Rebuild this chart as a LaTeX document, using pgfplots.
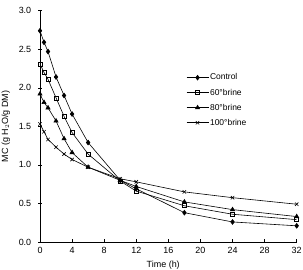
\documentclass[border=0pt]{standalone}
\usepackage{fontspec}
\setmainfont{Liberation Sans}
\usepackage{pgfplots}
\pgfplotsset{compat=1.18}

\begin{document}
\begin{tikzpicture}
\begin{axis}[
  at={(0,0)}, anchor=south west,
  scale only axis,
  width=256.7bp, height=231.3bp,
  xmin=0, xmax=32, ymin=0, ymax=3,
  axis x line*=bottom, axis y line*=left,
  axis line style={black, line width=0.7pt},
  xtick={0,4,...,32},
  ytick={0,0.5,...,3},
  xtick align=inside,
  ytick align=center,
  major tick length=3.5bp,
  tick style={black, line width=0.6pt},
  yticklabel style={xshift=-3.5bp, /pgf/number format/.cd, fixed, fixed zerofill, precision=1},
  /pgf/number format/assume math mode=true,
  ticklabel style={font=\fontsize{9}{10.5}\selectfont},
  xticklabel style={yshift=-2bp},
  xlabel={Time (h)},
  ylabel={MC (g H$_2$O/g DM)},
  label style={font=\fontsize{9}{10.5}\selectfont},
  ylabel style={at={(axis description cs:-0.133,0.5)}, anchor=center},
  xlabel style={at={(axis description cs:0.48,0)}, anchor=north, yshift=-18.5bp, inner sep=0.5bp},
  legend style={draw=none, fill=none, at={(0.569,0.733)}, anchor=north west,
    font=\fontsize{8.5}{10}\selectfont, row sep=5bp, inner sep=0pt,
    nodes={inner sep=1.2bp}},
  legend cell align=left,
  legend image code/.code={%
    \draw[mark repeat=2, mark phase=2] plot coordinates {(0bp,0bp) (11bp,0bp) (22bp,0bp)};},
  every axis plot/.append style={black, line width=0.6pt, mark options={solid}},
]
% Control
\addplot[mark=diamond*, mark size=2.4bp] coordinates {
  (0,2.74) (0.5,2.59) (1,2.47) (2,2.14) (3,1.90) (4,1.66) (6,1.29)
  (10,0.80) (12,0.69) (18,0.38) (24,0.26) (32,0.21)};
\addlegendentry{Control}
% 60 degree brine
\addplot[mark=square, mark size=2bp, mark options={fill=white}] coordinates {
  (0,2.31) (0.5,2.20) (1,2.11) (2,1.87) (3,1.63) (4,1.42) (6,1.14)
  (10,0.79) (12,0.66) (18,0.47) (24,0.36) (32,0.29)};
\addlegendentry{60\textdegree brine}
% 80 degree brine
\addplot[mark=triangle*, mark size=2.4bp] coordinates {
  (0,1.92) (0.5,1.81) (1,1.74) (2,1.57) (3,1.34) (4,1.16) (6,0.97)
  (10,0.80) (12,0.72) (18,0.52) (24,0.42) (32,0.33)};
\addlegendentry{80\textdegree brine}
% 100 degree brine
\addplot[mark=x, mark size=2.4bp] coordinates {
  (0,1.53) (0.5,1.43) (1,1.33) (2,1.23) (3,1.14) (4,1.07) (6,0.97)
  (10,0.82) (12,0.78) (18,0.65) (24,0.575) (32,0.49)};
\addlegendentry{100\textdegree brine}
\end{axis}
\pgfresetboundingbox
\path[use as bounding box] (-40bp,-28bp) rectangle (263bp,242bp);
\end{tikzpicture}
\end{document}
